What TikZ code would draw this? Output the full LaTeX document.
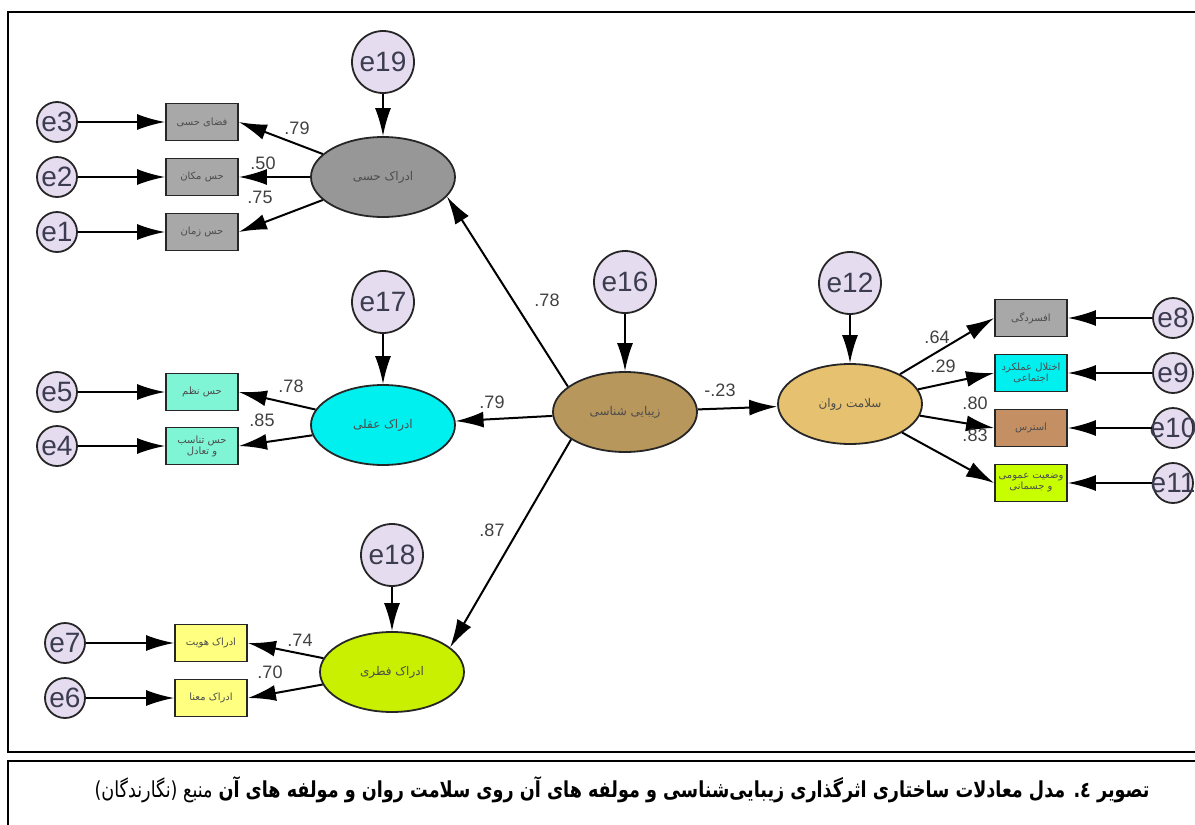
\documentclass[tikz,border=0pt]{standalone}
\usepackage{fontspec}
\setmainfont{Liberation Sans}
\newfontfamily\persfont[Script=Arabic]{DejaVu Sans}
\TeXXeTstate=1
\usepackage{xcolor}
\usetikzlibrary{arrows.meta,shapes.geometric,positioning}
\newcommand{\pers}[1]{{\persfont\beginR #1\endR}}
\definecolor{lavend}{HTML}{E6DCF0}
\definecolor{etext}{HTML}{3C3C50}
\definecolor{grayell}{HTML}{979797}
\definecolor{graybox}{HTML}{A8A8A8}
\definecolor{cyanfill}{HTML}{00F0F0}
\definecolor{aquafill}{HTML}{80F5D5}
\definecolor{limefill}{HTML}{C8F000}
\definecolor{yellowbox}{HTML}{FFFF80}
\definecolor{khaki}{HTML}{B8975C}
\definecolor{sand}{HTML}{E6C170}
\definecolor{brownbox}{HTML}{C49063}
\definecolor{limebox}{HTML}{C8FF00}

\begin{document}
\begin{tikzpicture}[x = .5pt, y = -.5pt,
    err/.style = {circle, draw = black!85, line width = .9pt, fill = lavend, minimum size = 31pt, inner sep = 0pt, font = \fontsize{14}{14}\selectfont, text = etext},
    errsmall/.style = {err, minimum size = 20pt},
    latent/.style = {ellipse, draw = black!85, line width = .9pt, minimum width = 72pt, minimum height = 40pt, inner sep = 0pt, font = \fontsize{6}{7}\selectfont, text = black!70},
    obs/.style = {rectangle, draw = black!85, line width = .9pt, minimum width = 36pt, minimum height = 18.5pt, inner sep = 0pt, align = center, font = \fontsize{5}{5.5}\selectfont, text = black!70},
    link/.style = {line width = 1pt, -{Latex[length = 14pt, width = 8pt]}},
    coef/.style = {font = \fontsize{9}{9}\selectfont, text = black!75}]
    \useasboundingbox (0,0) rectangle (1195,825);
    % Frames
    \draw[line width = 1.1pt] (1195,12) -- (8,12) -- (8,752) -- (1195,752);
    \draw[line width = 1.1pt] (1195,761) -- (8,761) -- (8,830);
    % Sensory perception
    \node[latent, fill = grayell] (Lhessi) at (383,177) {\pers{ادراک حسی}};
    \node[err] (e19) at (383,62) {e19};
    \node[obs, fill = graybox] (bFazai) at (202,122) {\pers{فضای حسی}};
    \node[obs, fill = graybox] (bMakan) at (202,177) {\pers{حس مکان}};
    \node[obs, fill = graybox] (bZaman) at (202,232) {\pers{حس زمان}};
    \node[errsmall] (e3) at (57,122) {e3};
    \node[errsmall] (e2) at (57,177) {e2};
    \node[errsmall] (e1) at (57,232) {e1};
    % Rational perception
    \node[latent, fill = cyanfill] (Laqli) at (383,425) {\pers{ادراک عقلی}};
    \node[err] (e17) at (383,302) {e17};
    \node[obs, fill = aquafill] (bNazm) at (202,392) {\pers{حس نظم}};
    \node[obs, fill = aquafill] (bTanasob) at (202,446) {\pers{حس تناسب}\\\pers{و تعادل}};
    \node[errsmall] (e5) at (57,392) {e5};
    \node[errsmall] (e4) at (57,446) {e4};
    % Innate perception
    \node[latent, fill = limefill] (Lfetri) at (392,672) {\pers{ادراک فطری}};
    \node[err] (e18) at (392,555) {e18};
    \node[obs, fill = yellowbox] (bHoviat) at (211,643) {\pers{ادراک هویت}};
    \node[obs, fill = yellowbox] (bMana) at (211,698) {\pers{ادراک معنا}};
    \node[errsmall] (e7) at (65,643) {e7};
    \node[errsmall] (e6) at (65,698) {e6};
    % Aesthetics
    \node[latent, fill = khaki] (Lzib) at (625,412) {\pers{زیبایی شناسی}};
    \node[err] (e16) at (625,282) {e16};
    % Mental health
    \node[latent, fill = sand] (Lsal) at (850,404) {\pers{سلامت روان}};
    \node[err] (e12) at (850,283) {e12};
    \node[obs, fill = graybox] (bAfsor) at (1031,318) {\pers{افسردگی}};
    \node[obs, fill = cyanfill] (bEkhtelal) at (1031,373) {\pers{اختلال عملکرد}\\\pers{اجتماعی}};
    \node[obs, fill = brownbox] (bStress) at (1031,428) {\pers{استرس}};
    \node[obs, fill = limebox] (bVazeiat) at (1031,483) {\pers{وضعیت عمومی}\\\pers{و جسمانی}};
    \node[errsmall] (e8) at (1173,318) {e8};
    \node[errsmall] (e9) at (1173,373) {e9};
    \node[errsmall] (e10) at (1173,428) {\makebox[0pt]{e10}};
    \node[errsmall] (e11) at (1173,483) {\makebox[0pt]{e11}};
    % Error terms
    \draw[link] (e19) -- (Lhessi);
    \draw[link] (e17) -- (Laqli);
    \draw[link] (e18) -- (Lfetri);
    \draw[link] (e16) -- (Lzib);
    \draw[link] (e12) -- (Lsal);
    \draw[link] (e3) -- (bFazai);
    \draw[link] (e2) -- (bMakan);
    \draw[link] (e1) -- (bZaman);
    \draw[link] (e5) -- (bNazm);
    \draw[link] (e4) -- (bTanasob);
    \draw[link] (e7) -- (bHoviat);
    \draw[link] (e6) -- (bMana);
    \draw[link] (e8) -- (bAfsor);
    \draw[link] (e9) -- (bEkhtelal);
    \draw[link] (e10) -- (bStress);
    \draw[link] (e11) -- (bVazeiat);
    % Loadings
    \draw[link] (Lhessi) -- (bFazai.east);
    \draw[link] (Lhessi) -- (bMakan.east);
    \draw[link] (Lhessi) -- (bZaman.east);
    \draw[link] (Laqli) -- (bNazm.east);
    \draw[link] (Laqli) -- (bTanasob.east);
    \draw[link] (Lfetri) -- (bHoviat.east);
    \draw[link] (Lfetri) -- (bMana.east);
    \draw[link] (Lsal) -- (bAfsor.west);
    \draw[link] (Lsal) -- (bEkhtelal.west);
    \draw[link] (Lsal) -- (bStress.west);
    \draw[link] (Lsal) -- (bVazeiat.west);
    % Structural paths
    \draw[link] (Lzib.156) -- (Lhessi.-17);
    \draw[link] (Lzib) -- (Laqli);
    \draw[link] (Lzib.207) -- (Lfetri.23);
    \draw[link] (Lzib) -- (Lsal);
    % Coefficients
    \node[coef] (c1) at (297,128) {.79};
    \node[coef] (c2) at (263,163) {.50};
    \node[coef] (c3) at (260,197) {.75};
    \node[coef] (c4) at (291,386) {.78};
    \node[coef] (c5) at (262,420) {.85};
    \node[coef] (c6) at (300,640) {.74};
    \node[coef] (c7) at (270,672) {.70};
    \node[coef] (c8) at (547,300) {.78};
    \node[coef] (c9) at (492,402) {.79};
    \node[coef] (c10) at (492,530) {.87};
    \node[coef] (c11) at (720,390) {-.23};
    \node[coef] (c12) at (937,337) {.64};
    \node[coef] (c13) at (943,366) {.29};
    \node[coef] (c14) at (975,403) {.80};
    \node[coef] (c15) at (975,435) {.83};
    % Caption
    \node[anchor = base east, inner sep = 0pt, font = \fontsize{11}{13}\selectfont] (caption) at (1150,797) {\scalebox{.8}[1]{\persfont\beginR\textbf{تصویر ٤. مدل معادلات ساختاری اثرگذاری زیبایی‌شناسی و مولفه های آن روی سلامت روان و مولفه های آن} منبع (نگارندگان)\endR}};
\end{tikzpicture}
\end{document}
